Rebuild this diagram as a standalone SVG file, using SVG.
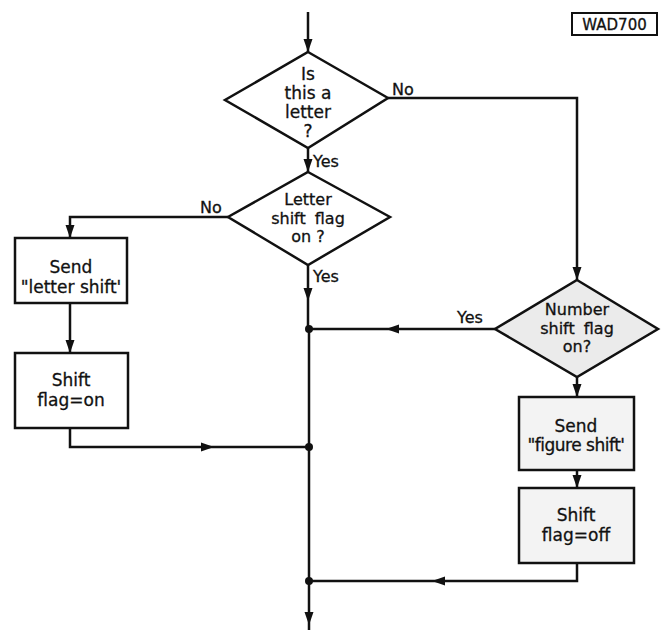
<svg xmlns="http://www.w3.org/2000/svg" width="666" height="630" viewBox="0 0 666 630">
<style>
.shape{stroke:#111;stroke-width:2.5;fill:#fff}
.grey{fill:#ebebeb}
.ln{stroke:#111;stroke-width:2.5;fill:none}
.ah{fill:#111;stroke:none}
.dot{fill:#111}
text{font-family:"DejaVu Sans","Liberation Sans",sans-serif;font-size:17px;fill:#111;text-anchor:middle;stroke:#111;stroke-width:0.3}
.sm{font-size:16px}
.lbl{font-size:16px;text-anchor:start}
</style>
<rect width="666" height="630" fill="#fff"/>
<g id="connectors">
<path class="ln" d="M308,12 V52"/>
<path class="ln" d="M388,98 H577 V280"/>
<path class="ln" d="M308,148 V172"/>
<path class="ln" d="M228,217 H70 V238"/>
<path class="ln" d="M70,303 V353"/>
<path class="ln" d="M70,428 V447 H309"/>
<path class="ln" d="M308,265 V329 H309 V630"/>
<path class="ln" d="M495,329 H309"/>
<path class="ln" d="M577,377 V397"/>
<path class="ln" d="M577,470 V488"/>
<path class="ln" d="M577,563 V581 H309"/>
<polygon class="ah" points="308,52 303.5,39 312.5,39"/>
<polygon class="ah" points="308,172 303.5,159 312.5,159"/>
<polygon class="ah" points="70,238 65.5,225 74.5,225"/>
<polygon class="ah" points="70,353 65.5,340 74.5,340"/>
<polygon class="ah" points="214,447 201,442.5 201,451.5"/>
<polygon class="ah" points="308,301 303.5,288 312.5,288"/>
<polygon class="ah" points="386,329 399,324.5 399,333.5"/>
<polygon class="ah" points="577,280 572.5,267 581.5,267"/>
<polygon class="ah" points="577,397 572.5,384 581.5,384"/>
<polygon class="ah" points="577,488 572.5,475 581.5,475"/>
<polygon class="ah" points="432,581 445,576.5 445,585.5"/>
<polygon class="ah" points="309,625 304.5,612 313.5,612"/>
<circle class="dot" cx="309" cy="329" r="4"/>
<circle class="dot" cx="309" cy="447" r="4"/>
<circle class="dot" cx="309" cy="581" r="4"/>
<text class="lbl" x="392" y="95">No</text>
<text class="lbl" x="313" y="167">Yes</text>
<text class="lbl" x="200" y="213">No</text>
<text class="lbl" x="313" y="282">Yes</text>
<text class="lbl" x="457" y="323">Yes</text>
</g>
<g id="ref">
<rect x="572" y="13" width="85" height="22" fill="#fff" stroke="#111" stroke-width="2"/>
<text x="614.5" y="30" style="font-size:15px">WAD700</text>
</g>
<g id="is_letter">
<polygon class="shape" points="308,52 388,98 308,148 225,100"/>
<text x="308" y="80">Is</text>
<text x="308" y="99">this a</text>
<text x="308" y="118">letter</text>
<text x="308" y="137">?</text>
</g>
<g id="letter_flag">
<polygon class="shape" points="308,172 390,217 308,265 228,217"/>
<text class="sm" x="308" y="205">Letter</text>
<text class="sm" x="308" y="223.5" style="word-spacing:4px">shift flag</text>
<text class="sm" x="308" y="242">on ?</text>
</g>
<g id="send_letter">
<rect class="shape" x="15" y="238" width="112" height="65"/>
<text x="71" y="273">Send</text>
<text x="71" y="293">"letter shift'</text>
</g>
<g id="flag_on">
<rect class="shape" x="15" y="353" width="113" height="75"/>
<text x="71" y="386">Shift</text>
<text x="71" y="406">flag=on</text>
</g>
<g id="number_flag">
<polygon class="shape grey" points="577,280 658,329 577,377 495,329"/>
<text class="sm" x="577" y="315">Number</text>
<text class="sm" x="577" y="333.5" style="word-spacing:4px">shift flag</text>
<text class="sm" x="577" y="352">on?</text>
</g>
<g id="send_figure">
<rect class="shape grey" x="519" y="397" width="115" height="73" style="fill:#f3f3f3"/>
<text x="576" y="432">Send</text>
<text x="576" y="451" style="letter-spacing:-0.5px">"figure shift'</text>
</g>
<g id="flag_off">
<rect class="shape" x="519" y="488" width="115" height="75" style="fill:#f3f3f3"/>
<text x="576" y="521">Shift</text>
<text x="576" y="541">flag=off</text>
</g>
</svg>
